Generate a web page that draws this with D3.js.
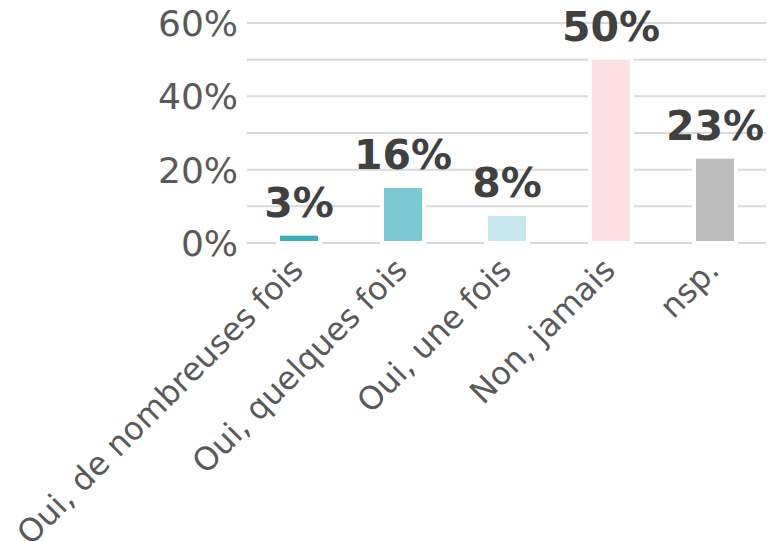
<!DOCTYPE html>
<html>
<head>
<meta charset="utf-8">
<script src="https://cdn.jsdelivr.net/npm/d3@7"></script>
<style>
  body { margin: 0; background: #fff; }
  text { font-family: "DejaVu Sans", sans-serif; }
</style>
</head>
<body>
<div id="vis"></div>
<script>
// Données du graphique
var categories = ['Oui, de nombreuses fois', 'Oui, quelques fois', 'Oui, une fois', 'Non, jamais', 'nsp.'];
var values = [2, 15, 7.4, 50, 23];
var valueLabels = ['3%', '16%', '8%', '50%', '23%'];
var colors = ['#3aafbb', '#7cc8d3', '#c5e6ec', '#fde0e4', '#bdbdbd'];
var gridTicks = [0, 10, 20, 30, 40, 50, 60];
var labelTicks = [0, 20, 40, 60];

var width = 775;
var height = 541;

var svg = d3.select('#vis')
    .append('svg')
    .attr('width', width)
    .attr('height', height);

// échelles
var x = d3.scaleBand()
    .domain(categories)
    .range([247, 767])
    .paddingInner(0.635)
    .paddingOuter(0.3175);

var y = d3.scaleLinear()
    .domain([0, 60])
    .range([243, 23]);

// lignes de grille
svg.selectAll('.grid')
    .data(gridTicks)
    .enter().append('line')
    .attr('x1', 247)
    .attr('x2', 766)
    .attr('y1', function (d) { return y(d); })
    .attr('y2', function (d) { return y(d); })
    .attr('stroke', '#d9d9d9')
    .attr('stroke-width', 2);

// étiquettes de l'axe y
svg.selectAll('.ytick')
    .data(labelTicks)
    .enter().append('text')
    .attr('x', 238)
    .attr('y', function (d) { return y(d); })
    .attr('dy', '0.36em')
    .attr('text-anchor', 'end')
    .attr('font-size', 36)
    .attr('fill', '#595959')
    .text(function (d) { return d + '%'; });

// contour blanc autour des barres
svg.selectAll('.halo')
    .data(values)
    .enter().append('rect')
    .attr('x', function (d, i) { return x(categories[i]) - 4; })
    .attr('width', x.bandwidth() + 8)
    .attr('y', function (d) { return y(d) - 3; })
    .attr('height', function (d) { return y(0) + 3 - (y(d) - 3); })
    .attr('fill', '#fff');

// barres
svg.selectAll('.bar')
    .data(values)
    .enter().append('rect')
    .attr('x', function (d, i) { return x(categories[i]); })
    .attr('width', x.bandwidth())
    .attr('y', function (d) { return y(d); })
    .attr('height', function (d) { return y(0) - 2 - y(d); })
    .attr('fill', function (d, i) { return colors[i]; });

// valeurs au-dessus des barres
svg.selectAll('.val')
    .data(values)
    .enter().append('text')
    .attr('x', function (d, i) { return x(categories[i]) + x.bandwidth() / 2; })
    .attr('y', function (d) { return y(d) - 19; })
    .attr('text-anchor', 'middle')
    .attr('font-size', 41)
    .attr('font-weight', 'bold')
    .attr('fill', '#404040')
    .text(function (d, i) { return valueLabels[i]; });

// étiquettes de l'axe x
svg.selectAll('.xtick')
    .data(categories)
    .enter().append('text')
    .attr('transform', function (d) {
        var cx = x(d) + x.bandwidth() / 2;
        return 'translate(' + (cx + 6) + ',' + 272 + ') rotate(-45)';
    })
    .attr('text-anchor', 'end')
    .attr('font-size', 32)
    .attr('fill', '#595959')
    .text(function (d) { return d; });
</script>
</body>
</html>
